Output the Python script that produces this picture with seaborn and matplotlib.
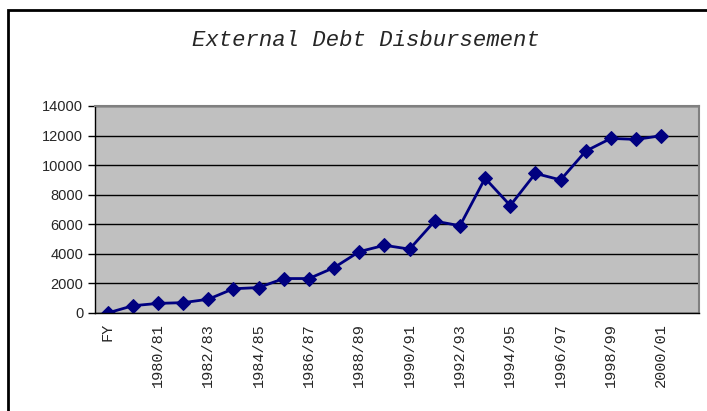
import numpy as np
import pandas as pd
import seaborn as sns
import matplotlib.pyplot as plt
from matplotlib.patches import Rectangle

years = ["FY"] + ["%d/%02d" % (y, (y + 1) % 100) for y in range(1979, 2002)]
disbursement = [0, 490, 650, 700, 930, 1640, 1720, 2330, 2330, 3070,
                4150, 4580, 4320, 6220, 5900, 9110, 7270, 9440, 9000,
                10950, 11810, 11740, 11990, np.nan]

df = pd.DataFrame({"pos": np.arange(len(years)), "value": disbursement})

sns.set_style("white")
fig = plt.figure(figsize=(7.07, 4.11), dpi=100)
ax = fig.add_axes([95 / 707, 1 - 313 / 411, (699 - 95) / 707, (313 - 106) / 411])
ax.set_facecolor("#c0c0c0")

sns.lineplot(data=df, x="pos", y="value", ax=ax, color="#000080", linewidth=2,
             marker="D", markersize=7.5, markeredgecolor="#000080")

ax.set_xlim(-0.5, len(years) - 0.5)
ax.set_ylim(0, 14000)
ax.set_yticks(range(0, 14001, 2000))
ax.set_yticklabels([str(v) for v in range(0, 14001, 2000)], fontsize=10.5,
                   family="Liberation Sans")
ax.yaxis.grid(True, color="black", linewidth=1)
ax.set_axisbelow(True)

ax.set_xticks(np.arange(len(years)))
ax.set_xticklabels([t if i % 2 == 0 else "" for i, t in enumerate(years)],
                   rotation=90, fontsize=11, family="Liberation Mono")
ax.set_xticks(np.arange(-0.5, len(years)), minor=True)
ax.tick_params(axis="x", which="major", length=0, pad=7)
ax.tick_params(axis="x", which="minor", length=5, width=1, color="black", direction="out")
ax.tick_params(axis="y", length=5, width=1, color="black", direction="out", left=True)
ax.set_xlabel("")
ax.set_ylabel("")

for side in ["left", "bottom"]:
    ax.spines[side].set_color("black")
    ax.spines[side].set_linewidth(1)
for side in ["top", "right"]:
    ax.spines[side].set_visible(True)
    ax.spines[side].set_color("#808080")
    ax.spines[side].set_linewidth(1.5)

fig.text(366 / 707, 1 - 40 / 411, "External Debt Disbursement", ha="center", va="center",
         fontsize=16, style="italic", family="Liberation Mono")

fig.patches.append(Rectangle((8 / 707, -0.1), 1.2, 1 - 10 / 411 + 0.1,
                             transform=fig.transFigure, fill=False,
                             edgecolor="black", linewidth=2))

fig.savefig("out.png", dpi=100)
